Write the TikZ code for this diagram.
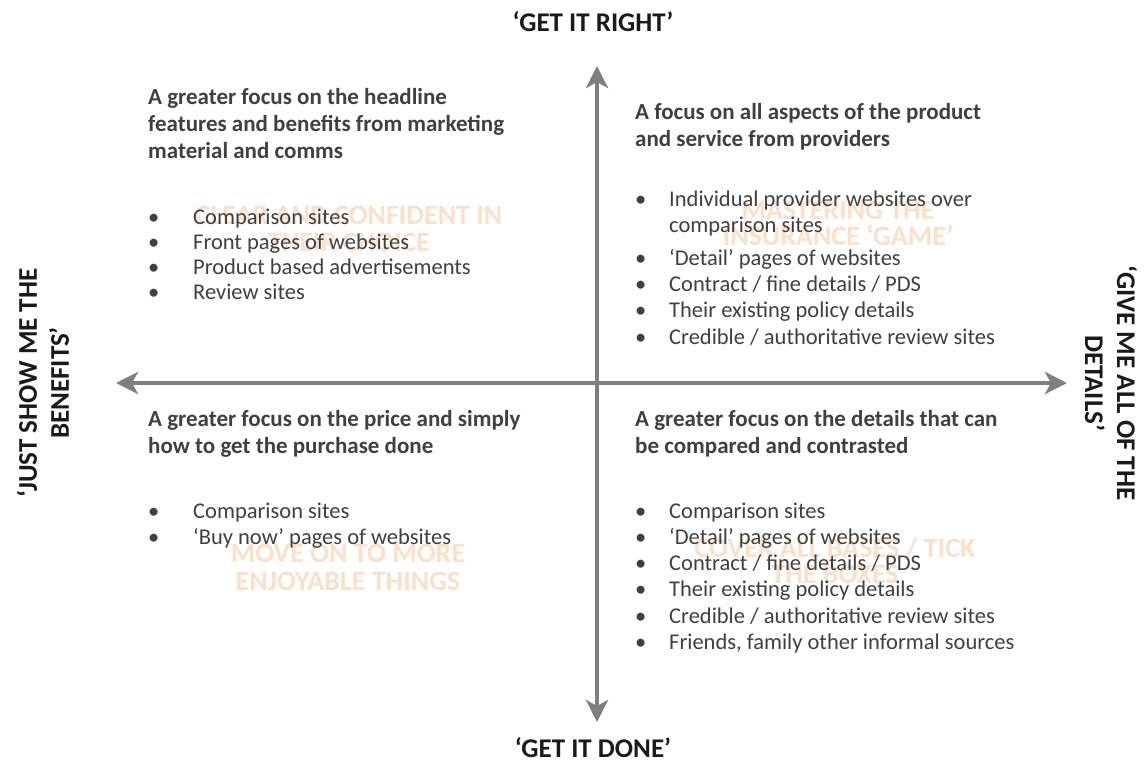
\documentclass[tikz,border=0pt]{standalone}
\usepackage{fontspec}
\setmainfont{Carlito}
\usetikzlibrary{arrows.meta}
\definecolor{txt}{HTML}{404040}
\definecolor{ttl}{HTML}{1A1A1A}
\definecolor{axis}{HTML}{7F7F7F}
\definecolor{faded}{HTML}{FBE0CB}
\tikzset{
  head/.style={anchor=mid west,inner sep=0pt,text=txt,font=\fontsize{23}{27}\selectfont\bfseries},
  item/.style={anchor=mid west,inner sep=0pt,text=txt,font=\fontsize{22.5}{26}\selectfont},
  dot/.style={anchor=mid west,inner sep=0pt,text=txt,font=\fontsize{22.5}{26}\selectfont},
  ghost/.style={anchor=mid,inner sep=0pt,text=faded,font=\fontsize{28}{32}\selectfont\bfseries},
  axtitle/.style={inner sep=0pt,text=ttl,align=center,font=\fontsize{27}{32}\selectfont\bfseries},
  axisline/.style={draw=axis,line width=4pt,{Stealth[length=22pt,width=22pt,inset=6pt]}-{Stealth[length=22pt,width=22pt,inset=6pt]}}
}
\begin{document}
\begin{tikzpicture}[x=1pt,y=-1pt]
\useasboundingbox[fill=white] (0,0) rectangle (1148,770);
% faded background labels
\node[ghost] (g1a) at (349,222) {CLEAR AND CONFIDENT IN};
\node[ghost] (g1b) at (349,249) {THEIR CHOICE};
\node[ghost] (g2a) at (838,217) {MASTERING THE};
\node[ghost] (g2b) at (838,243) {INSURANCE ‘GAME’};
\node[ghost] (g3a) at (348,560) {MOVE ON TO MORE};
\node[ghost] (g3b) at (348,588) {ENJOYABLE THINGS};
\node[ghost] (g4a) at (835,555) {COVER ALL BASES / TICK};
\node[ghost] (g4b) at (835,581) {THE BOXES};
% axes
\coordinate (top) at (597,66);
\coordinate (bot) at (597,722);
\coordinate (lft) at (116,383);
\coordinate (rgt) at (1067,383);
\draw[axisline] (lft) -- (rgt);
\draw[axisline] (top) -- (bot);
% axis titles
\node[axtitle] (tR) at (593,22) {‘GET IT RIGHT’};
\node[axtitle] (tD) at (593,748) {‘GET IT DONE’};
\node[axtitle,rotate=90] (tL) at (43,383) {‘JUST SHOW ME THE\\BENEFITS’};
\node[axtitle,rotate=-90] (tRr) at (1111,383) {‘GIVE ME ALL OF THE\\DETAILS’};
% top-left
\node[head] (h1a) at (148,102) {A greater focus on the headline};
\node[head] (h1b) at (148,129) {features and benefits from marketing};
\node[head] (h1c) at (148,156) {material and comms};
\foreach \y/\t [count=\i] in {222/{Comparison sites},247/{Front pages of websites},272/{Product based advertisements},297/{Review sites}}{
  \node[dot] (b1d\i) at (148,\y) {•};
  \node[item] (b1t\i) at (193,\y) {\t};
}
% top-right
\node[head] (h2a) at (635,117) {A focus on all aspects of the product};
\node[head] (h2b) at (635,144) {and service from providers};
\foreach \y/\t [count=\i] in {204/{Individual provider websites over},263/{‘Detail’ pages of websites},289/{Contract / fine details / PDS},315/{Their existing policy details},342/{Credible / authoritative review sites}}{
  \node[dot] (b2d\i) at (635,\y) {•};
  \node[item] (b2t\i) at (669,\y) {\t};
}
\node[item] (b2c) at (669,230) {comparison sites};
% bottom-left
\node[head] (h3a) at (148,424) {A greater focus on the price and simply};
\node[head] (h3b) at (148,451) {how to get the purchase done};
\foreach \y/\t [count=\i] in {516/{Comparison sites},542/{‘Buy now’ pages of websites}}{
  \node[dot] (b3d\i) at (148,\y) {•};
  \node[item] (b3t\i) at (193,\y) {\t};
}
% bottom-right
\node[head] (h4a) at (635,424) {A greater focus on the details that can};
\node[head] (h4b) at (635,451) {be compared and contrasted};
\foreach \y/\t [count=\i] in {516/{Comparison sites},542/{‘Detail’ pages of websites},568/{Contract / fine details / PDS},594/{Their existing policy details},621/{Credible / authoritative review sites},647/{Friends, family other informal sources}}{
  \node[dot] (b4d\i) at (635,\y) {•};
  \node[item] (b4t\i) at (669,\y) {\t};
}
\end{tikzpicture}
\end{document}
